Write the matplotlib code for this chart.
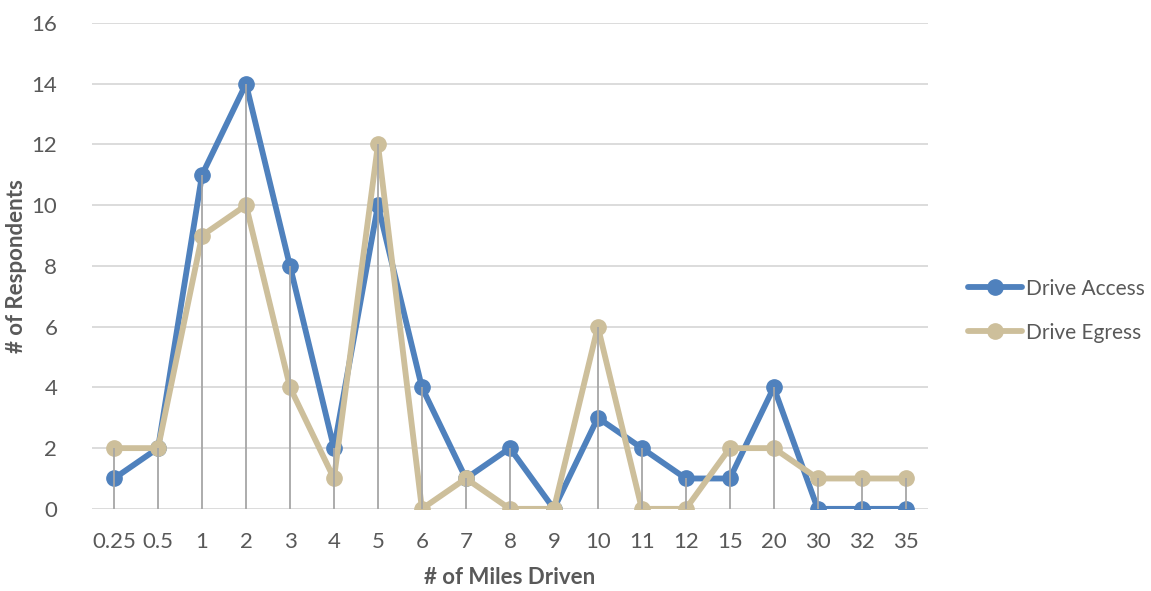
import matplotlib.pyplot as plt
import numpy as np

plt.rcParams["font.family"] = ["Lato", "DejaVu Sans"]
plt.rcParams["font.size"] = 16

miles = ["0.25", "0.5", "1", "2", "3", "4", "5", "6", "7", "8", "9",
         "10", "11", "12", "15", "20", "30", "32", "35"]
drive_access = [1, 2, 11, 14, 8, 2, 10, 4, 1, 2, 0, 3, 2, 1, 1, 4, 0, 0, 0]
drive_egress = [2, 2, 9, 10, 4, 1, 12, 0, 1, 0, 0, 6, 0, 0, 2, 2, 1, 1, 1]

BLUE = "#4F81BD"
TAN = "#CDBF9B"
TEXT = "#595959"

fig = plt.figure(figsize=(11.51, 5.91), dpi=100)
ax = fig.add_axes([0.080, 0.139, 0.726, 0.822])

x = np.arange(len(miles))

for y in range(0, 17, 2):
    ax.axhline(y, color="#D9D9D9", lw=1.3, zorder=0)

ax.plot(x, drive_access, color=BLUE, lw=4.2, marker="o", ms=11,
        label="Drive Access", zorder=3, solid_capstyle="round")
ax.plot(x, drive_egress, color=TAN, lw=4.2, marker="o", ms=11,
        label="Drive Egress", zorder=3, solid_capstyle="round")

# drop lines from the higher series down to the axis
tops = np.maximum(drive_access, drive_egress)
ax.vlines(x, 0, tops, color="#A6A6A6", lw=1.3, zorder=4)

ax.set_xlim(-0.5, len(miles) - 0.5)
ax.set_ylim(0, 16)
ax.set_xticks(x)
ax.set_xticklabels(miles)
ax.set_yticks(range(0, 17, 2))
ax.tick_params(length=0, colors=TEXT, labelsize=16)
ax.tick_params(axis="x", pad=17)
ax.tick_params(axis="y", pad=25)
for s in ax.spines.values():
    s.set_visible(False)

ax.set_xlabel("# of Miles Driven", fontsize=16, fontweight="bold",
              color=TEXT, va="center")
ax.set_ylabel("# of Respondents", fontsize=16, fontweight="bold",
              color=TEXT, va="center")
ax.xaxis.set_label_coords(0.5, -0.142)
ax.yaxis.set_label_coords(-0.090, 0.5)

ax.legend(loc="center left", bbox_to_anchor=(1.048, 0.408), frameon=False,
          borderpad=0, borderaxespad=0,
          handlelength=2.6, handletextpad=0.2, labelspacing=1.15,
          labelcolor=TEXT, fontsize=15)

fig.savefig("out.png", dpi=100)
